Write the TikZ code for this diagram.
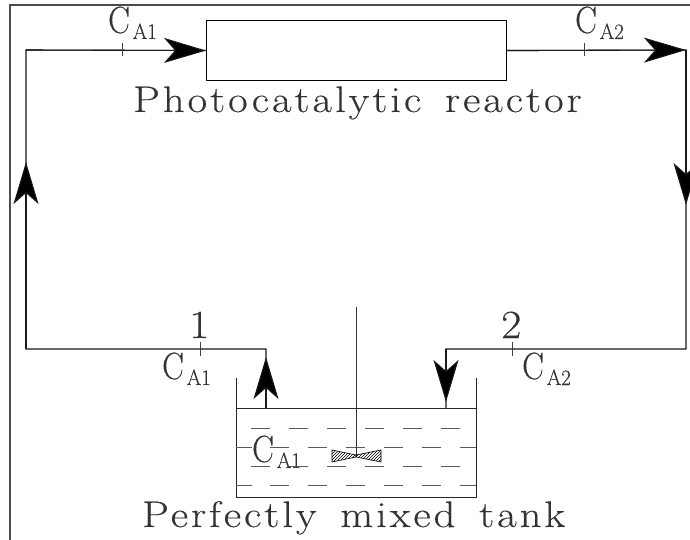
\documentclass[tikz,border=0pt]{standalone}
\usepackage{fontspec}
\setmainfont{Latin Modern Roman}
\newfontfamily\thick[FakeBold=0.2]{Latin Modern Roman}
\newfontfamily\spaced[LetterSpace=7,WordSpace=1.5,FakeBold=0.2]{Latin Modern Roman}
\usetikzlibrary{arrows.meta,patterns}
\newcommand{\conc}[1]{\scalebox{0.85}[1]{\thick\fontsize{38}{38}\selectfont C}\hspace{3pt}\raisebox{-6pt}{\scalebox{0.95}[1]{\thick\fontsize{22}{22}\selectfont #1}}}
\newcommand{\capt}[1]{\scalebox{1.15}[1]{\spaced\fontsize{37}{37}\selectfont #1}}
\newcommand{\digit}[1]{\scalebox{1.1}[1]{\thick\fontsize{40}{40}\selectfont #1}}
\tikzset{
  x=1pt,y=-1pt,
  pipe/.style={line width=1.1pt,black!90},
  flow/.style={pipe,-{Stealth[length=42pt,width=25pt,inset=11pt,fill=black]}},
  tick/.style={line width=0.7pt,black!75},
  label/.style={inner sep=0pt,anchor=base west,text=black!80},
  caption/.style={inner sep=0pt,anchor=base west,text=black!80},
  frame/.style={line width=1.1pt,black!70},
  vessel/.style={line width=1pt,black!85},
  ripple/.style={line width=0.9pt,black!65},
  blade/.style={line width=0.6pt,black,pattern=north east lines,pattern color=black}
}
\begin{document}
\begin{tikzpicture}
\useasboundingbox (0,0) rectangle (690,540);
\fill[white] (0,0) rectangle (690,540);
\draw[frame] (10,545) -- (10,5) -- (695,5);
% reactor
\node[draw,line width=1.1pt,black,minimum width=300pt,minimum height=60pt,inner sep=0pt,anchor=north west] (reactor) at (206,20) {};
\node[caption] (cap1) at (133,112) {\capt{Photocatalytic reactor}};
% loop coordinates
\coordinate (tl) at (26,50);
\coordinate (tr) at (686,50);
\coordinate (bl) at (26,349);
\coordinate (br) at (686,349);
\coordinate (inA) at (266,349);
\coordinate (inB) at (266,408);
\coordinate (outA) at (446,349);
\coordinate (outB) at (446,408);
\coordinate (upTip) at (26,162);
\coordinate (dnTip) at (686,205);
\coordinate (upTip2) at (266,357);
\coordinate (dnTip2) at (446,402);
\coordinate (rTip) at (686,50);
% pipes
\draw[pipe] (inB) -- (inA) -- (bl) -- (tl) -- (reactor.west);
\draw[pipe] (reactor.east) -- (tr) -- (br) -- (outA) -- (outB);
% arrowheads
\draw[flow] (tl) -- (reactor.west);
\draw[flow] (reactor.east) -- (rTip);
\draw[flow] (tr) -- (dnTip);
\draw[flow] (bl) -- (upTip);
\draw[flow] (inB) -- (upTip2);
\draw[flow] (outA) -- (dnTip2);
% ticks
\coordinate (t1a) at (122,43); \coordinate (t1b) at (122,56);
\coordinate (t2a) at (584,43); \coordinate (t2b) at (584,56);
\coordinate (t3a) at (200,342); \coordinate (t3b) at (200,356);
\coordinate (t4a) at (512,342); \coordinate (t4b) at (512,356);
\draw[tick] (t1a) -- (t1b);
\draw[tick] (t2a) -- (t2b);
\draw[tick] (t3a) -- (t3b);
\draw[tick] (t4a) -- (t4b);
% labels
\node[label] (c1) at (108,33) {\conc{A1}};
\node[label] (c2) at (575,33) {\conc{A2}};
\node[label] (c3) at (162,379) {\conc{A1}};
\node[label] (c4) at (522,379) {\conc{A2}};
\node[label] (c5) at (252,462) {\conc{A1}};
\node[label] (n1) at (189,338) {\digit{1}};
\node[label] (n2) at (501,338) {\digit{2}};
% tank
\draw[vessel] (236,378) -- (236,497) -- (476,497) -- (476,378);
\draw[vessel] (236,408) -- (476,408);
\foreach \y in {428,466}
  \foreach \x in {251,289,327,365,403,441}
    \draw[ripple] (\x,\y) -- ++(19,0);
\foreach \y in {447,485}{
  \draw[ripple] (236,\y) -- (252,\y);
  \foreach \x in {270,308,346,384,422}
    \draw[ripple] (\x,\y) -- ++(19,0);
  \draw[ripple] (460,\y) -- (476,\y);
}
% stirrer
\draw[line width=0.8pt,black!80] (356,307) -- (356,456);
\draw[blade] (332,450) -- (356,455) -- (356,457) -- (332,462) -- cycle;
\draw[blade] (381,450) -- (356,455) -- (356,457) -- (381,462) -- cycle;
\node[caption] (cap2) at (142,527) {\capt{Perfectly mixed tank}};
\end{tikzpicture}
\end{document}
